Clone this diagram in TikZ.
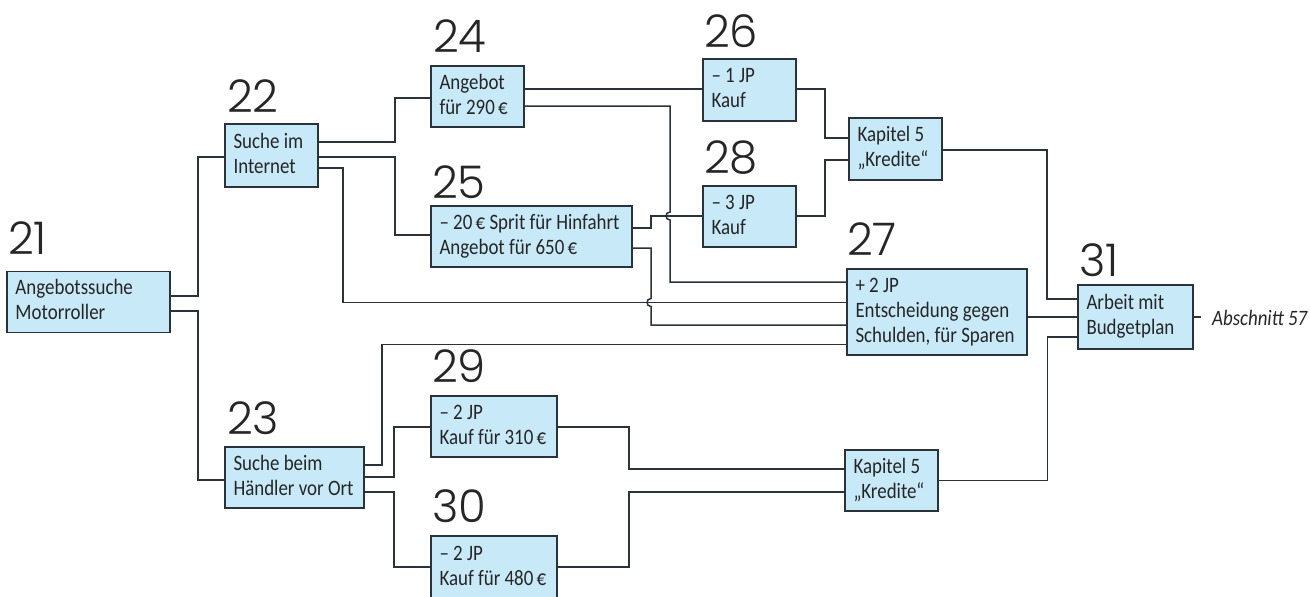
\documentclass[tikz,border=0pt]{standalone}
\usepackage{fontspec}
\setmainfont{Carlito}[FakeStretch=0.86]
\newfontfamily\numfont{Poppins Light}[Numbers=Monospaced]
\usetikzlibrary{calc}
\definecolor{boxfill}{RGB}{200,233,248}
\definecolor{lncol}{HTML}{2A333A}
\newcommand\boxtext[1]{{\spaceskip=0pt\xspaceskip=0pt\begin{tabular}{@{}l@{}}#1\end{tabular}}}
\newcommand\eur{\kern-1pt€}
\newcommand\boxfont{\fontsize{22}{25}\selectfont}
\begin{document}
\begin{tikzpicture}[x=1pt,y=-1pt,
  box/.style={draw=lncol, fill=boxfill, line width=1.5pt, rectangle, inner xsep=8.5pt, inner ysep=0pt, align=left, font=\boxfont, text=black!85},
  num/.style={anchor=base west, inner sep=0pt, font=\numfont\fontsize{45}{45}\selectfont, text=black!85},
  conn/.style={draw=lncol, line width=1.5pt}]
\useasboundingbox[fill=white] (0,0) rectangle (1310,597);
\begin{scope}
\clip (0,0) rectangle (1310,597);
% boxes
\node[box, minimum width=163pt, minimum height=61pt, text width=146pt] (b21) at (88.5,302) {\boxtext{Angebotssuche\\Motorroller}};
\node[box, minimum width=93pt, minimum height=63pt, text width=76pt] (b22) at (271.5,155.5) {\boxtext{Suche im\\Internet}};
\node[box, minimum width=139pt, minimum height=61pt, text width=122pt] (b23) at (294.5,477.5) {\boxtext{Suche beim\\Händler vor Ort}};
\node[box, minimum width=93pt, minimum height=61pt, text width=76pt] (b24) at (477.5,96.5) {\boxtext{Angebot\\für 290 \eur}};
\node[box, minimum width=201pt, minimum height=61pt, text width=184pt] (b25) at (531.5,236.5) {\boxtext{– 20 \eur{} Sprit für Hinfahrt\\Angebot für 650 \eur}};
\node[box, minimum width=93pt, minimum height=62pt, text width=76pt] (b26) at (749.5,90) {\boxtext{– 1 JP\\Kauf}};
\node[box, minimum width=93pt, minimum height=61pt, text width=76pt] (b28) at (749.5,216.5) {\boxtext{– 3 JP\\Kauf}};
\node[box, minimum width=93pt, minimum height=62pt, text width=76pt] (bk1) at (895.5,149) {\boxtext{Kapitel 5\\„Kredite“}};
\node[box, minimum width=180pt, minimum height=86pt, text width=163pt] (b27) at (937,312) {\boxtext{+ 2 JP\\Entscheidung gegen\\Schulden, für Sparen}};
\node[box, minimum width=115pt, minimum height=64pt, text width=98pt] (b31) at (1135.5,317) {\boxtext{Arbeit mit\\Budgetplan}};
\node[box, minimum width=126pt, minimum height=61pt, text width=109pt] (b29) at (494,426.5) {\boxtext{– 2 JP\\Kauf für 310 \eur}};
\node[box, minimum width=126pt, minimum height=63pt, text width=109pt] (b30) at (494,567.5) {\boxtext{– 2 JP\\Kauf für 480 \eur}};
\node[box, minimum width=93pt, minimum height=61pt, text width=76pt] (bk2) at (891.5,480.5) {\boxtext{Kapitel 5\\„Kredite“}};
% numbers
\node[num] (n21) at (8,254) {21};
\node[num] (n22) at (227,112) {22};
\node[num] (n23) at (227,434) {23};
\node[num] (n24) at (433,52.5) {24};
\node[num] (n25) at (432,198) {25};
\node[num] (n26) at (704,47.7) {26};
\node[num] (n27) at (847,255) {27};
\node[num] (n28) at (704,173.3) {28};
\node[num] (n29) at (432,382.7) {29};
\node[num] (n30) at (432,522.7) {30};
\node[num] (n31) at (1079,276) {31};
% connectors
\draw[conn] (b21.east |- 0,296) -| (198,157) -- (b22.west |- 0,157);
\draw[conn] (b21.east |- 0,311) -| (198,480) -- (b23.west |- 0,480);
\draw[conn] (b22.east |- 0,142) -| (395,98) -- (b24.west |- 0,98);
\draw[conn] (b22.east |- 0,157) -| (395,235) -- (b25.west |- 0,235);
\draw[conn] (b22.east |- 0,168) -| (343,302.5) -- (b27.west |- 0,302.5);
\draw[conn] (b24.east |- 0,89) -- (b26.west |- 0,89);
\draw[conn] (b24.east |- 0,106) -- (670,106) -- (670,212) .. controls (664.7,212) and (664.7,220) .. (670,220) -- (670,282) -- (b27.west |- 0,282);
\draw[conn] (b25.east |- 0,228) -| (651,216) -- (b28.west |- 0,216);
\draw[conn] (b25.east |- 0,248) -- (651,248) -- (651,298.5) .. controls (645.7,298.5) and (645.7,306.5) .. (651,306.5) -- (651,325) -- (b27.west |- 0,325);
\draw[conn] (b26.east |- 0,89) -| (825,138) -- (bk1.west |- 0,138);
\draw[conn] (b28.east |- 0,216) -| (825,160) -- (bk1.west |- 0,160);
\draw[conn] (bk1.east |- 0,150) -| (1047,299) -- (b31.west |- 0,299);
\draw[conn] (b27.east |- 0,317) -- (b31.west |- 0,317);
\draw[conn] (b23.east |- 0,465) -| (382,344.5) -- (b27.west |- 0,344.5);
\draw[conn] (b23.east |- 0,477) -| (394,427) -- (b29.west |- 0,427);
\draw[conn] (b23.east |- 0,492) -| (394,567) -- (b30.west |- 0,567);
\draw[conn] (b29.east |- 0,427) -| (629,469) -- (bk2.west |- 0,469);
\draw[conn] (b30.east |- 0,567) -| (629,492) -- (bk2.west |- 0,492);
\draw[conn] (bk2.east |- 0,480.5) -| (1047.5,337) -- (b31.west |- 0,337);
\coordinate (tickend) at (1201,317);
\draw[conn] (b31.east |- 0,317) -- (tickend);
\node[anchor=base west, inner sep=0pt, font=\itshape\boxfont, text=black!85] (abs) at (1212,325) {Abschnitt 57};
\end{scope}
\end{tikzpicture}
\end{document}
